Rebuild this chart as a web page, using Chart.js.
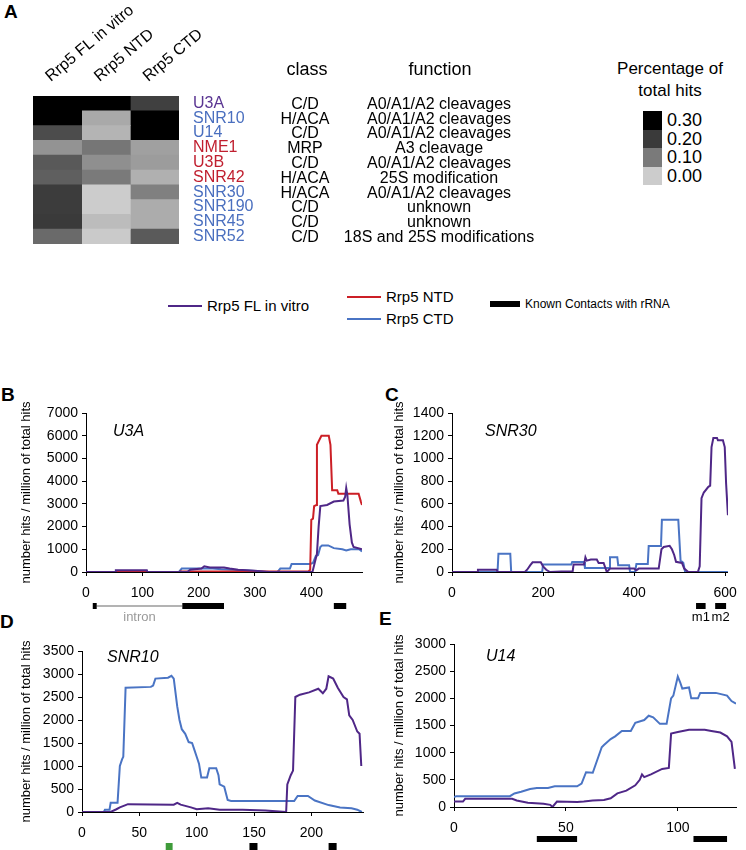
<!DOCTYPE html>
<html>
<head>
<meta charset="utf-8">
<script src="https://cdn.jsdelivr.net/npm/chart.js@4.4.1/dist/chart.umd.min.js"></script>
<style>
  body { margin: 0; background: #fff; font-family: Arial, "Liberation Sans", sans-serif; color: #000; }
  #page { position: relative; width: 746px; height: 850px; overflow: hidden; }
  canvas { position: absolute; }
  .abs { position: absolute; white-space: nowrap; }
  .letter { font-weight: bold; font-size: 19px; line-height: 20px; }
</style>
</head>
<body>
<div id="page">
  <div class="abs letter" style="left:4px;top:2px">A</div>
  <div class="abs letter" style="left:1px;top:385px">B</div>
  <div class="abs letter" style="left:385px;top:385px">C</div>
  <div class="abs letter" style="left:0px;top:612px">D</div>
  <div class="abs letter" style="left:379px;top:609px">E</div>

  <canvas id="heat" width="560" height="250" style="left:0;top:0"></canvas>
  <div id="scaleKey"></div>

  <div id="legendRow"></div>

  <canvas id="chartB" width="373" height="250" style="left:0;top:385px"></canvas>
  <canvas id="chartC" width="373" height="250" style="left:373px;top:385px"></canvas>
  <canvas id="chartD" width="373" height="225" style="left:0;top:625px"></canvas>
  <canvas id="chartE" width="373" height="225" style="left:373px;top:625px"></canvas>
</div>

<script>
// üîπ **Panel A data**
const rowNames = ['U3A', 'SNR10', 'U14', 'NME1', 'U3B', 'SNR42', 'SNR30', 'SNR190', 'SNR45', 'SNR52'];
const rowClass = ['C/D', 'H/ACA', 'C/D', 'MRP', 'C/D', 'H/ACA', 'H/ACA', 'C/D', 'C/D', 'C/D'];
const rowFunction = ['A0/A1/A2 cleavages', 'A0/A1/A2 cleavages', 'A0/A1/A2 cleavages', 'A3 cleavage',
    'A0/A1/A2 cleavages', '25S modification', 'A0/A1/A2 cleavages', 'unknown', 'unknown',
    '18S and 25S modifications'];
const rowNameColors = ['#5a3592', '#4a6fbf', '#4a6fbf', '#c01f2f', '#c01f2f', '#c01f2f',
    '#4a6fbf', '#4a6fbf', '#4a6fbf', '#4a6fbf'];
const columns = ['Rrp5 FL in vitro', 'Rrp5 NTD', 'Rrp5 CTD'];
const flShare  = [0.33, 0.31, 0.172, 0.070, 0.152, 0.142, 0.197, 0.197, 0.200, 0.125];
const ntdShare = [0.34, 0.043, 0.029, 0.106, 0.074, 0.100, 0.000, 0.000, 0.020, 0.002];
const ctdShare = [0.19, 0.36, 0.32, 0.054, 0.059, 0.034, 0.093, 0.039, 0.039, 0.150];
const scaleTicks = [0.30, 0.20, 0.10, 0.00];

// üîπ **U3A profile (panel B)**
const u3aFL = [[0,0],[52,0],[53,80],[108,80],[109,0],[180,0],[185,100],[205,150],[210,250],[220,200],
    [245,200],[255,150],[270,100],[300,50],[325,0],[402,0],[405,300],[410,800],[413,2000],[416,2900],
    [428,2950],[440,3100],[457,3150],[460,3300],[462,3700],[464,3400],[468,2100],[472,1300],[475,1100],
    [490,1000]];
const u3aNTD = [[0,0],[165,0],[168,20],[395,20],[398,100],[400,2300],[403,2350],[405,2900],[409,2950],
    [410,5600],[416,5900],[418,6000],[431,6000],[434,5600],[437,3600],[446,3600],[448,3450],[484,3450],
    [488,3100],[490,2950]];
const u3aCTD = [[0,0],[165,0],[170,150],[225,150],[240,120],[280,80],[300,40],[320,0],[340,0],[345,150],
    [362,150],[365,350],[398,350],[403,400],[408,700],[412,750],[416,1100],[419,1170],[430,1170],
    [440,1050],[455,1000],[462,950],[470,1000],[485,1000],[490,900]];
const u3aXTicks = [0, 100, 200, 300, 400];
const u3aYTicks = [0, 1000, 2000, 3000, 4000, 5000, 6000, 7000];
const u3aContacts = [[12,19],[171,245],[440,462]];
const u3aIntron = [19,171];

// üîπ **SNR30 profile (panel C)**
const snr30FL = [[0,0],[55,0],[57,20],[98,20],[100,0],[160,0],[165,20],[172,60],[177,85],[195,85],
    [200,50],[207,20],[215,0],[240,5],[265,5],[267,65],[290,65],[293,130],[296,100],[305,110],[318,110],
    [322,80],[333,80],[340,0],[347,30],[400,30],[405,15],[410,30],[454,30],[460,200],[465,220],[478,230],
    [483,200],[488,150],[492,90],[505,80],[510,30],[519,0],[540,0],[544,50],[548,650],[553,700],
    [563,750],[567,760],[570,1100],[574,1180],[582,1180],[584,1160],[595,1160],[599,1100],[602,780],
    [606,500]];
const snr30CTD = [[0,0],[100,0],[102,160],[128,160],[130,0],[198,0],[200,65],[262,65],[264,88],[290,88],
    [292,35],[345,35],[347,130],[363,130],[365,60],[389,60],[391,0],[402,0],[405,70],[430,70],[432,230],
    [459,230],[461,460],[497,460],[502,100],[508,80],[512,0],[606,0]];
const snr30XTicks = [0, 200, 400, 600];
const snr30YTicks = [0, 200, 400, 600, 800, 1000, 1200, 1400];
const snr30Contacts = [[536,557],[578,602]];
const snr30ContactNames = ['m1', 'm2'];

// üîπ **SNR10 profile (panel D)**
const snr10FL = [[0,0],[25,0],[30,60],[33,100],[38,150],[40,170],[80,160],[83,200],[86,160],[95,100],
    [100,60],[110,80],[120,50],[140,50],[160,30],[178,0],[179,600],[182,800],[184,900],[186,2500],
    [190,2550],[198,2600],[206,2680],[210,2580],[213,2680],[215,2950],[219,2900],[223,2700],[228,2500],
    [231,2450],[233,2100],[236,2000],[240,1750],[242,1700],[243.5,1000]];
const snr10CTD = [[0,0],[19,0],[20,50],[24,50],[25,200],[31,200],[33,1000],[35,1150],[36,1200],[38,2700],
    [60,2720],[62,2750],[64,2900],[75,2920],[78,2960],[80,2900],[83,2300],[85,2000],[87,1800],[90,1700],
    [93,1520],[96,1500],[98,1350],[100,1200],[102,1050],[104,750],[109,750],[111,950],[117,950],
    [119,800],[120,600],[124,550],[127,260],[130,240],[185,240],[188,350],[197,350],[203,250],[215,150],
    [225,100],[235,80],[240,50],[244,0]];
const snr10XTicks = [0, 50, 100, 150, 200];
const snr10YTicks = [0, 500, 1000, 1500, 2000, 2500, 3000, 3500];
const snr10Contacts = [[146,153],[215,222]];
const snr10Green = [[73,79]];

// üîπ **U14 profile (panel E)**
const u14FL = [[0,100],[4,100],[5,150],[26,150],[28,120],[33,80],[40,60],[43,40],[44,0],[46,100],[55,90],
    [58,100],[62,120],[67,130],[70,160],[73,250],[77,300],[81,400],[83,500],[84,600],[85,550],[88,600],
    [93,700],[96,720],[97,1350],[100,1380],[105,1420],[112,1420],[115,1400],[119,1370],[122,1300],
    [124,1200],[125.5,700]];
const u14CTD = [[0,180],[1,200],[25,200],[27,250],[30,280],[34,330],[37,350],[42,350],[45,380],[55,380],
    [57,430],[59,640],[62,630],[66,1100],[67,1140],[70,1250],[72,1300],[75,1400],[79,1400],[81,1550],
    [85,1600],[87,1680],[89,1650],[92,1530],[95,1530],[97,2000],[98,2050],[100,2400],[101,2300],
    [102,2180],[105,2200],[106,2000],[109,2000],[110,2100],[117,2100],[122,2050],[123,2000],[124,1950],
    [126,1900]];
const u14XTicks = [0, 50, 100];
const u14YTicks = [0, 500, 1000, 1500, 2000, 2500, 3000];
const u14Contacts = [[37,55],[107,122]];

const PURPLE = '#4f2787';
const RED = '#cc1f26';
const BLUE = '#4a74c4';

Chart.defaults.font.family = 'Arial, "Liberation Sans", sans-serif';
Chart.defaults.color = '#000';

// grey ramp used by the heat map and its key
const shadeStops = [[0, 204], [0.1, 122], [0.2, 58], [0.3, 0]];
function shade(v) {
    let g = 204;
    if (v >= 0.3) g = 0;
    else if (v > 0) {
        for (let i = 0; i < shadeStops.length - 1; i++) {
            const [v0, g0] = shadeStops[i];
            const [v1, g1] = shadeStops[i + 1];
            if (v <= v1) { g = g0 + (g1 - g0) * (v - v0) / (v1 - v0); break; }
        }
    }
    g = Math.round(g);
    return `rgb(${g},${g},${g})`;
}

// üîπ **Class / function columns next to the heat map**
const tableText = {
    id: 'tableText',
    afterDraw(chart) {
        const { ctx, chartArea, scales: { y } } = chart;
        const classX = chartArea.right + 126;
        const funcX = chartArea.right + 260;
        ctx.save();
        ctx.fillStyle = '#000';
        ctx.textAlign = 'center';
        ctx.textBaseline = 'middle';
        ctx.font = '18px Arial, "Liberation Sans", sans-serif';
        ctx.fillText('class', classX + 2, 70);
        ctx.fillText('function', funcX + 1, 70);
        ctx.font = '16px Arial, "Liberation Sans", sans-serif';
        rowNames.forEach((name, i) => {
            const py = y.getPixelForTick(i) + 1;
            ctx.fillText(rowClass[i], classX, py);
            ctx.fillText(rowFunction[i], funcX, py);
        });
        ctx.restore();
    }
};

new Chart(document.getElementById('heat'), {
    type: 'bar',
    data: {
        labels: rowNames,
        datasets: [flShare, ntdShare, ctdShare].map((vals, i) => ({
            label: columns[i],
            data: vals.map(() => 1),
            backgroundColor: vals.map(shade),
            borderWidth: 0,
            barPercentage: 1,
            categoryPercentage: 1
        }))
    },
    options: {
        indexAxis: 'y',
        responsive: false,
        animation: false,
        layout: { padding: { left: 33, top: 0, right: 0, bottom: 6 } },
        plugins: { legend: { display: false }, tooltip: { enabled: false } },
        scales: {
            x: { stacked: true, min: 0, max: 3, display: false },
            cols: {
                type: 'category',
                labels: columns,
                position: 'top',
                offset: true,
                grid: { display: false, drawTicks: false },
                border: { display: false },
                ticks: { minRotation: 40, maxRotation: 40, labelOffset: 3, padding: 10, font: { size: 16 }, color: '#000' },
                afterFit: scale => {
                    scale.height = 96;
                    scale.paddingLeft = 0;
                    scale.paddingRight = 0;
                }
            },
            y: {
                stacked: true,
                position: 'right',
                grid: { display: false, drawTicks: false },
                border: { display: false },
                ticks: { autoSkip: false, padding: 14, font: { size: 16 }, color: c => rowNameColors[c.index] },
                afterFit: scale => {
                    scale.width = 560 - 179;
                    scale.paddingTop = 0;
                    scale.paddingBottom = 0;
                }
            }
        }
    },
    plugins: [tableText]
});

// üîπ **Colour key for panel A**
const key = document.getElementById('scaleKey');
key.innerHTML = '<div class="abs" style="left:590px;top:58px;width:160px;text-align:center;font-size:17px;line-height:22px">Percentage of<br>total hits</div>' +
    scaleTicks.map((t, i) =>
        `<div class="abs" style="left:643px;top:${111 + i * 18.5}px;width:19px;height:18.5px;background:${shade(t)}"></div>` +
        `<div class="abs" style="left:667px;top:${110 + i * 18.5}px;font-size:18px;line-height:20px">${t.toFixed(2)}</div>`
    ).join('');

// üîπ **Shared legend row**
const legendItems = [
    { text: 'Rrp5 FL in vitro', color: PURPLE, x: 168, y: 306, w: 34, h: 2, size: 15 },
    { text: 'Rrp5 NTD', color: RED, x: 347, y: 297, w: 34, h: 2, size: 15 },
    { text: 'Rrp5 CTD', color: BLUE, x: 347, y: 319, w: 34, h: 2, size: 15 },
    { text: 'Known Contacts with rRNA', color: '#000', x: 490, y: 304, w: 30, h: 6, size: 12 }
];
document.getElementById('legendRow').innerHTML = legendItems.map(it =>
    `<div class="abs" style="left:${it.x}px;top:${it.y - it.h / 2}px;width:${it.w}px;height:${it.h}px;background:${it.color}"></div>` +
    `<div class="abs" style="left:${it.x + it.w + 5}px;top:${it.y - it.size * 0.6}px;font-size:${it.size}px;line-height:${it.size * 1.2}px">${it.text}</div>`
).join('');

// üîπ **Gene name, contact bars and notes under the x axis**
const trackMarks = {
    id: 'trackMarks',
    afterDraw(chart, args, opts) {
        const { ctx, chartArea, scales: { x } } = chart;
        const top = chartArea.bottom + opts.barOffset;
        ctx.save();
        ctx.font = 'italic 16px Arial, "Liberation Sans", sans-serif';
        ctx.fillStyle = '#000';
        ctx.textBaseline = 'middle';
        ctx.textAlign = 'left';
        ctx.fillText(opts.gene, chartArea.left + opts.geneDx, chartArea.top + opts.geneDy);

        if (opts.intron) {
            ctx.strokeStyle = '#9a9a9a';
            ctx.lineWidth = 1.5;
            ctx.beginPath();
            ctx.moveTo(x.getPixelForValue(opts.intron[0]), top + 3);
            ctx.lineTo(x.getPixelForValue(opts.intron[1]), top + 3);
            ctx.stroke();
            ctx.fillStyle = '#9a9a9a';
            ctx.font = '13px Arial, "Liberation Sans", sans-serif';
            ctx.textAlign = 'center';
            ctx.fillText('intron', x.getPixelForValue((opts.intron[0] + opts.intron[1]) / 2), top + 14);
        }
        (opts.green || []).forEach(([a, b]) => {
            ctx.fillStyle = '#3f9b3a';
            ctx.fillRect(x.getPixelForValue(a), top, x.getPixelForValue(b) - x.getPixelForValue(a), 7);
        });
        ctx.fillStyle = '#000';
        ctx.font = '13px Arial, "Liberation Sans", sans-serif';
        ctx.textAlign = 'center';
        opts.contacts.forEach(([a, b], i) => {
            const xa = x.getPixelForValue(a);
            const xb = x.getPixelForValue(b);
            ctx.fillRect(xa, top, xb - xa, opts.barHeight);
            if (opts.names) ctx.fillText(opts.names[i], (xa + xb) / 2, top + 14);
        });
        ctx.restore();
    }
};

function profileChart(id, cfg) {
    const series = [
        { data: cfg.fl, color: PURPLE },
        { data: cfg.ntd, color: RED },
        { data: cfg.ctd, color: BLUE }
    ].filter(s => s.data);
    return new Chart(document.getElementById(id), {
        type: 'line',
        data: {
            datasets: series.map(s => ({
                data: s.data,
                borderColor: s.color,
                borderWidth: 2,
                pointRadius: 0,
                tension: 0,
                fill: false
            }))
        },
        options: {
            responsive: false,
            animation: false,
            layout: { padding: { left: 0, top: cfg.padTop, right: cfg.padRight, bottom: 0 } },
            plugins: { legend: { display: false }, tooltip: { enabled: false }, trackMarks: cfg.marks },
            scales: {
                x: {
                    type: 'linear',
                    min: 0,
                    max: cfg.xMax,
                    grid: { drawOnChartArea: false, tickLength: 4, color: '#000' },
                    border: { color: '#000' },
                    ticks: { padding: 9, font: { size: 14 }, color: '#000', callback: v => v },
                    afterBuildTicks: scale => { scale.ticks = cfg.xTicks.map(v => ({ value: v })); },
                    afterFit: scale => { scale.height = cfg.xHeight; }
                },
                y: {
                    min: 0,
                    max: cfg.yMax,
                    grid: { drawOnChartArea: false, tickLength: 4, color: '#000' },
                    border: { color: '#000' },
                    ticks: { padding: 4, font: { size: 14 }, color: '#000', callback: v => v },
                    afterBuildTicks: scale => { scale.ticks = cfg.yTicks.map(v => ({ value: v })); },
                    title: {
                        display: true,
                        text: 'number hits / million of total hits',
                        font: { size: 13 },
                        color: '#000',
                        padding: { top: 19, bottom: 0 }
                    },
                    afterFit: scale => { scale.width = cfg.yWidth; }
                }
            }
        },
        plugins: [trackMarks]
    });
}

profileChart('chartB', {
    fl: u3aFL, ntd: u3aNTD, ctd: u3aCTD,
    xMax: 490, xTicks: u3aXTicks, yMax: 7000, yTicks: u3aYTicks,
    padTop: 28, padRight: 11, yWidth: 86, xHeight: 63,
    marks: { gene: 'U3A', geneDx: 27, geneDy: 19, contacts: u3aContacts, intron: u3aIntron, barOffset: 31, barHeight: 6 }
});

profileChart('chartC', {
    fl: snr30FL, ctd: snr30CTD,
    xMax: 606, xTicks: snr30XTicks, yMax: 1400, yTicks: snr30YTicks,
    padTop: 28, padRight: 13, yWidth: 79, xHeight: 63,
    marks: { gene: 'SNR30', geneDx: 33, geneDy: 19, contacts: snr30Contacts, names: snr30ContactNames, barOffset: 31, barHeight: 6 }
});

profileChart('chartD', {
    fl: snr10FL, ctd: snr10CTD,
    xMax: 245, xTicks: snr10XTicks, yMax: 3500, yTicks: snr10YTicks,
    padTop: 26, padRight: 10, yWidth: 82, xHeight: 38,
    marks: { gene: 'SNR10', geneDx: 25, geneDy: 7, contacts: snr10Contacts, green: snr10Green, barOffset: 31, barHeight: 7 }
});

profileChart('chartE', {
    fl: u14FL, ctd: u14CTD,
    xMax: 126, xTicks: u14XTicks, yMax: 3000, yTicks: u14YTicks,
    padTop: 19, padRight: 10, yWidth: 81, xHeight: 43,
    marks: { gene: 'U14', geneDx: 32, geneDy: 13, contacts: u14Contacts, barOffset: 29, barHeight: 6 }
});
</script>
</body>
</html>
